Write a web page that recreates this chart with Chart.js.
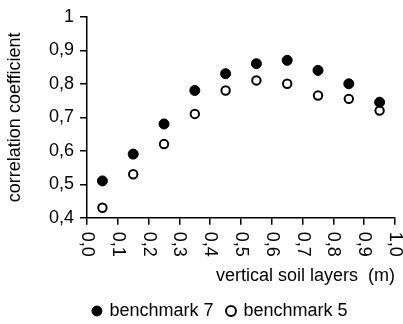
<!DOCTYPE html>
<html lang="en">
<head>
  <meta charset="UTF-8">
  <title>Correlation coefficient by soil layer</title>
  <style>
    body { margin: 0; background: #fff; }
    #wrap { width: 403px; height: 324px; }
  </style>
</head>
<body>
  <div id="wrap"><canvas id="chart"></canvas></div>

  <script src="https://cdn.jsdelivr.net/npm/chart.js"></script>
  <script>
    // layer mid-depths (m)
    const depths = [0.05, 0.15, 0.25, 0.35, 0.45, 0.55, 0.65, 0.75, 0.85, 0.95];
    const benchmark7 = [0.51, 0.59, 0.68, 0.78, 0.83, 0.86, 0.87, 0.84, 0.80, 0.745];
    const benchmark5 = [0.43, 0.53, 0.62, 0.71, 0.78, 0.81, 0.80, 0.765, 0.755, 0.72];
    const seriesNames = ['benchmark 7', 'benchmark 5'];
    const xTitle = 'vertical soil layers  (m)';
    const yTitle = 'correlation coefficient';

    const fontFamily = '"Liberation Sans", Arial, sans-serif';
    const comma = v => v.toFixed(1).replace('.', ',');

    function toPoints(ys) {
      return depths.map((x, i) => ({ x: x, y: ys[i] }));
    }

    // chart.js only rotates x labels counter-clockwise, the original reads top-down
    const clockwiseXLabels = {
      id: 'clockwiseXLabels',
      afterDraw(chart) {
        const scale = chart.scales.x;
        const ctx = chart.ctx;
        ctx.save();
        ctx.fillStyle = '#000';
        ctx.font = '18px ' + fontFamily;
        ctx.textAlign = 'left';
        ctx.textBaseline = 'middle';
        scale.ticks.forEach(t => {
          const px = scale.getPixelForValue(t.value);
          ctx.save();
          ctx.translate(px, scale.top + 14);
          ctx.rotate(Math.PI / 2);
          ctx.fillText(comma(t.value), 0, 0);
          ctx.restore();
        });
        ctx.restore();
      }
    };

    // legend in the original sits a bit right of the canvas centre
    const legendNudge = {
      id: 'legendNudge',
      afterLayout(chart) {
        chart.legend.left += 21;
        chart.legend.right += 21;
      }
    };

    new Chart(document.getElementById('chart'), {
      type: 'scatter',
      data: {
        datasets: [{
          label: seriesNames[0],
          data: toPoints(benchmark7),
          backgroundColor: '#000',
          borderColor: '#000',
          borderWidth: 1,
          pointRadius: 5,
          pointStyle: 'circle'
        }, {
          label: seriesNames[1],
          data: toPoints(benchmark5),
          backgroundColor: '#fff',
          borderColor: '#000',
          borderWidth: 2,
          pointRadius: 4.2,
          pointStyle: 'circle'
        }]
      },
      options: {
        responsive: true,
        maintainAspectRatio: false,
        animation: false,
        layout: { padding: { top: 6, right: 8, left: 4, bottom: -6 } },
        plugins: {
          tooltip: { enabled: false },
          legend: {
            position: 'bottom',
            labels: {
              usePointStyle: true,
              boxWidth: 7,
              boxHeight: 7,
              padding: 14,
              color: '#000',
              font: { family: fontFamily, size: 18 }
            }
          }
        },
        scales: {
          x: {
            type: 'linear',
            min: 0,
            max: 1,
            afterFit(scale) {
              scale.paddingLeft = 0;
              scale.paddingRight = 0;
            },
            ticks: {
              stepSize: 0.1,
              minRotation: 90,
              maxRotation: 90,
              color: 'rgba(0,0,0,0)',
              padding: 9.1,
              font: { family: fontFamily, size: 16 },
              callback: v => comma(v)
            },
            grid: { drawOnChartArea: false, drawTicks: true, tickLength: 7, color: '#000', lineWidth: 1.5 },
            border: { display: true, color: '#000', width: 1.5 },
            title: {
              display: true,
              text: xTitle,
              align: 'end',
              color: '#000',
              padding: { top: 0, bottom: 1.2 },
              font: { family: fontFamily, size: 18 }
            }
          },
          y: {
            min: 0.4,
            max: 1,
            ticks: {
              stepSize: 0.1,
              color: '#000',
              padding: 6,
              font: { family: fontFamily, size: 18 },
              callback: v => (Math.abs(v - 1) < 1e-9 ? '1' : comma(v))
            },
            grid: { drawOnChartArea: false, drawTicks: true, tickLength: 7, color: '#000', lineWidth: 1.5 },
            border: { display: true, color: '#000', width: 1.5 },
            title: {
              display: true,
              text: yTitle,
              color: '#000',
              padding: { top: 0, bottom: 17.4 },
              font: { family: fontFamily, size: 18 }
            }
          }
        }
      },
      plugins: [clockwiseXLabels, legendNudge]
    });
  </script>
</body>
</html>
